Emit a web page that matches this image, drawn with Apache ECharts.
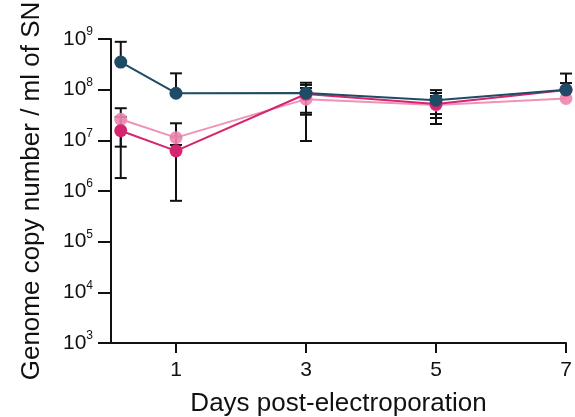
<!DOCTYPE html>
<html>
<head>
<meta charset="utf-8">
<script src="https://cdn.jsdelivr.net/npm/echarts@6/dist/echarts.min.js"></script>
<style>
  html, body { margin: 0; padding: 0; background: #fff; }
  #main { width: 575px; height: 417px; }
</style>
</head>
<body>
<div id="main"></div>
<script>
// days post-electroporation
var days = [0.15, 1, 3, 5, 7];
var xTicks = [1, 3, 5, 7];

// dark blue series
var blueMean = [3.5e8, 8.5e7, 8.6e7, 6.2e7, 1.0e8];
var blueLow  = [null, null, 3.2e7, 3.3e7, null];
var blueHigh = [8.8e8, 2.1e8, 1.37e8, 9.8e7, 2.08e8];

// magenta series
var magMean = [1.55e7, 6.2e6, 8.2e7, 5.2e7, 9.8e7];
var magLow  = [1.8e6, 6.4e5, 9.7e6, 2.1e7, null];
var magHigh = [2.9e7, 1.18e7, 1.24e8, 8.6e7, 1.35e8];

// light pink series
var pinkMean = [2.6e7, 1.13e7, 6.5e7, 5.0e7, 6.7e7];
var pinkLow  = [7.5e6, 8.1e6, 3.5e7, 2.76e7, null];
var pinkHigh = [4.3e7, 2.17e7, 1.08e8, 7.5e7, null];

var myChart = echarts.init(document.getElementById('main'));

function errorBars(mean, low, high) {
  return {
    type: 'custom',
    z: 1,
    silent: true,
    data: days.map(function (d, i) { return [d, mean[i]]; }),
    renderItem: function (params, api) {
      var i = params.dataIndex;
      var x = days[i];
      var kids = [];
      var cap = 6;
      var pm = api.coord([x, mean[i]]);
      var top = high[i] != null ? api.coord([x, high[i]]) : pm;
      var bot = low[i] != null ? api.coord([x, low[i]]) : pm;
      var st = { stroke: '#111', lineWidth: 2 };
      kids.push({ type: 'line', shape: { x1: pm[0], y1: top[1], x2: pm[0], y2: bot[1] }, style: st });
      if (high[i] != null) {
        kids.push({ type: 'line', shape: { x1: pm[0] - cap, y1: top[1], x2: pm[0] + cap, y2: top[1] }, style: st });
      }
      if (low[i] != null) {
        kids.push({ type: 'line', shape: { x1: pm[0] - cap, y1: bot[1], x2: pm[0] + cap, y2: bot[1] }, style: st });
      }
      return { type: 'group', children: kids };
    }
  };
}

function lineSeries(mean, color, z, opacity) {
  return {
    type: 'line',
    z: z,
    data: days.map(function (d, i) { return [d, mean[i]]; }),
    symbol: 'circle',
    symbolSize: 13,
    lineStyle: { color: color, width: 2, opacity: opacity },
    itemStyle: { color: color, opacity: opacity },
    silent: true
  };
}

var option = {
  animation: false,
  textStyle: { fontFamily: 'Liberation Sans' },
  grid: { left: 111, right: 9, top: 39, bottom: 74, outerBoundsMode: 'none' },
  xAxis: {
    type: 'value',
    min: 0,
    max: 7,
    name: 'Days post-electroporation',
    nameLocation: 'middle',
    nameGap: 48,
    nameTextStyle: { fontSize: 26, color: '#111' },
    splitLine: { show: false },
    axisLine: { lineStyle: { color: '#111', width: 2 } },
    axisTick: { length: 10, lineStyle: { color: '#111', width: 2 }, customValues: xTicks },
    axisLabel: { fontSize: 21, color: '#111', margin: 17, customValues: xTicks }
  },
  yAxis: {
    type: 'log',
    logBase: 10,
    min: 1e3,
    max: 1e9,
    splitNumber: 6,
    name: 'Genome copy number / ml of SN',
    nameLocation: 'middle',
    nameGap: 66,
    nameTextStyle: { fontSize: 26, color: '#111' },
    splitLine: { show: false },
    axisLine: { show: true, lineStyle: { color: '#111', width: 2 } },
    axisTick: { length: 13, lineStyle: { color: '#111', width: 2 } },
    axisLabel: {
      margin: 18,
      formatter: function (v) {
        return '{b|10}{s|' + Math.round(Math.log10(v)) + '}';
      },
      rich: {
        b: { fontSize: 21, color: '#111', fontFamily: 'Liberation Sans' },
        s: { fontSize: 12, color: '#111', fontFamily: 'Liberation Sans', padding: [0, 0, 14, 0] }
      }
    }
  },
  series: [
    errorBars(pinkMean, pinkLow, pinkHigh),
    errorBars(magMean, magLow, magHigh),
    errorBars(blueMean, blueLow, blueHigh),
    lineSeries(pinkMean, '#ec86b0', 2, 0.9),
    lineSeries(magMean, '#d6246f', 3, 1),
    lineSeries(blueMean, '#1e4b66', 4, 1)
  ]
};
myChart.setOption(option);
</script>
</body>
</html>
